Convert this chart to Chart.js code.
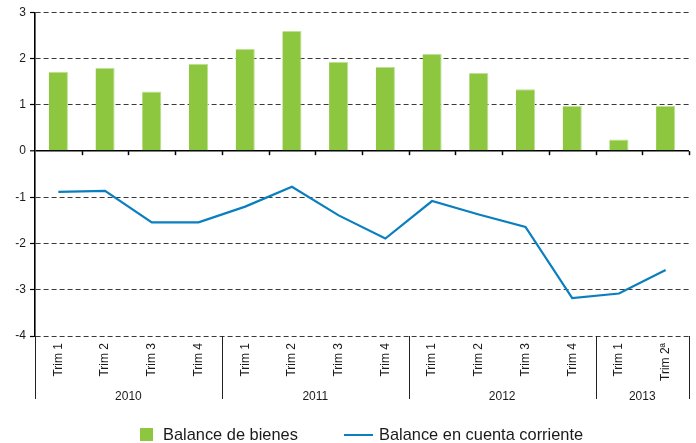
<!DOCTYPE html>
<html>
<head>
<meta charset="utf-8">
<script src="https://cdn.jsdelivr.net/npm/chart.js@4"></script>
<style>
    html, body { margin: 0; padding: 0; background: #fff; }
    #wrap { position: relative; width: 696px; height: 443px; font-family: "Liberation Sans", Arial, sans-serif; }
    #legend { position: absolute; left: 0; top: 0; width: 696px; height: 443px; pointer-events: none; color: #1a1a1a; font-size: 16.4px; }
    #legend .box { position: absolute; left: 140px; top: 428px; width: 13px; height: 13px; background: #8dc63f; }
    #legend .line { position: absolute; left: 344px; top: 434px; width: 29px; height: 2px; background: #0a7fc0; }
    #legend .txt { position: absolute; top: 425px; line-height: 19px; white-space: nowrap; }
</style>
</head>
<body>
<div id="wrap">
    <canvas id="balanceChart" width="696" height="443"></canvas>
    <div id="legend">
        <div class="box"></div><div class="txt" style="left:163px">Balance de bienes</div>
        <div class="line"></div><div class="txt" style="left:379px">Balance en cuenta corriente</div>
    </div>
</div>
<script>
const quarters = ['Trim 1', 'Trim 2', 'Trim 3', 'Trim 4',
                  'Trim 1', 'Trim 2', 'Trim 3', 'Trim 4',
                  'Trim 1', 'Trim 2', 'Trim 3', 'Trim 4',
                  'Trim 1', 'Trim 2ª'];
const years = ['2010', '2011', '2012', '2013'];
const yearSpans = [4, 4, 4, 2];
const goodsBalance = [1.72, 1.80, 1.29, 1.89, 2.21, 2.60, 1.93, 1.82, 2.10, 1.69, 1.34, 0.98, 0.25, 0.98];
const currentAccount = [-0.88, -0.86, -1.54, -1.54, -1.20, -0.77, -1.39, -1.89, -1.08, -1.37, -1.64, -3.18, -3.08, -2.57];
const yMin = -4;
const yMax = 3;

const fontFamily = '"Liberation Sans", Arial, sans-serif';
const textColor = '#1a1a1a';

// year separators, year labels and small ticks under the zero line
const axisDecor = {
    id: 'axisDecor',
    afterDraw(chart) {
        const ctx = chart.ctx;
        const area = chart.chartArea;
        const x = chart.scales.x;
        const y = chart.scales.y;
        const zero = y.getPixelForValue(0);

        ctx.save();
        ctx.strokeStyle = '#000';
        ctx.lineWidth = 1.5;
        for (let i = 1; i <= quarters.length; i++) {
            const px = Math.round(x.getPixelForValue(i - 0.5)) + 0.5;
            ctx.beginPath();
            ctx.moveTo(px, zero);
            ctx.lineTo(px, zero + 4);
            ctx.stroke();
        }

        ctx.lineWidth = 1;
        ctx.strokeStyle = '#222';
        let start = 0;
        const bounds = [0];
        yearSpans.forEach(n => { start += n; bounds.push(start); });
        bounds.forEach(b => {
            const px = Math.round(x.getPixelForValue(b - 0.5)) + 0.5;
            ctx.beginPath();
            ctx.moveTo(px, area.bottom);
            ctx.lineTo(px, area.bottom + 63);
            ctx.stroke();
        });

        ctx.fillStyle = textColor;
        ctx.font = '12px ' + fontFamily;
        ctx.textAlign = 'center';
        ctx.textBaseline = 'middle';
        start = 0;
        years.forEach((yr, i) => {
            const cx = x.getPixelForValue(start + yearSpans[i] / 2 - 0.5);
            ctx.fillText(yr, cx, area.bottom + 61);
            start += yearSpans[i];
        });
        ctx.restore();
    }
};

const isZero = c => c.tick && c.tick.value === 0;

const chartData = {
    labels: quarters,
    datasets: [
        {
            type: 'line',
            label: 'Balance en cuenta corriente',
            data: currentAccount,
            borderColor: '#0a7fc0',
            borderWidth: 2.2,
            pointRadius: 0,
            tension: 0
        },
        {
            type: 'bar',
            label: 'Balance de bienes',
            data: goodsBalance,
            backgroundColor: '#8dc63f',
            borderColor: '#bfe095',
            borderWidth: { top: 1, right: 1, left: 0, bottom: 0 },
            borderSkipped: 'bottom',
            barPercentage: 0.41,
            categoryPercentage: 1
        }
    ]
};

const chartOptions = {
    responsive: false,
    animation: false,
    layout: { padding: { top: 12.5, right: 7, left: 0, bottom: 0 } },
    plugins: {
        legend: { display: false },
        tooltip: { enabled: false }
    },
    scales: {
        x: {
            offset: true,
            grid: { display: false, drawTicks: false },
            border: { display: false },
            ticks: {
                autoSkip: false,
                minRotation: 90,
                maxRotation: 90,
                padding: 7,
                color: textColor,
                font: { family: fontFamily, size: 12 }
            },
            afterFit: s => { s.height = 107; }
        },
        y: {
            min: yMin,
            max: yMax,
            ticks: {
                stepSize: 1,
                padding: 4,
                color: textColor,
                font: { family: fontFamily, size: 12 }
            },
            grid: {
                color: c => isZero(c) ? '#000' : '#3a3a3a',
                lineWidth: c => isZero(c) ? 1.6 : 1,
                tickColor: '#000',
                tickWidth: 1.2,
                tickLength: 5
            },
            border: {
                display: true,
                color: '#000',
                width: 1.6,
                dash: c => isZero(c) ? [] : [5, 3]
            },
            afterFit: s => { s.width = 35; }
        }
    }
};

const balanceChart = new Chart(document.getElementById('balanceChart').getContext('2d'), {
    type: 'bar',
    data: chartData,
    options: chartOptions,
    plugins: [axisDecor]
});
</script>
</body>
</html>
